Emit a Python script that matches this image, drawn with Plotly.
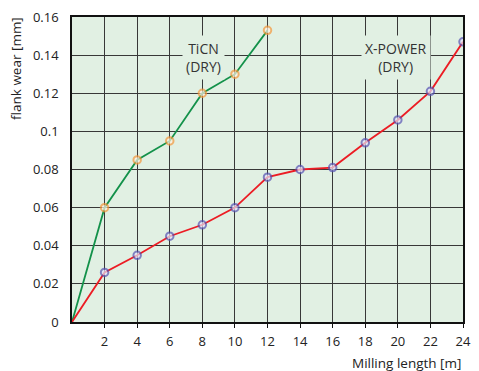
import plotly.graph_objects as go

length_ticn = [0, 2, 4, 6, 8, 10, 12]
wear_ticn = [0, 0.060, 0.085, 0.095, 0.120, 0.130, 0.153]
length_xpower = [0, 2, 4, 6, 8, 10, 12, 14, 16, 18, 20, 22, 24]
wear_xpower = [0, 0.026, 0.035, 0.045, 0.051, 0.060, 0.076, 0.080, 0.081, 0.094, 0.106, 0.121, 0.147]
x_ticks = [2, 4, 6, 8, 10, 12, 14, 16, 18, 20, 22, 24]
y_ticks = [0, 0.02, 0.04, 0.06, 0.08, 0.1, 0.12, 0.14, 0.16]
y_tick_labels = ["0", "0.02", "0.04", "0.06", "0.08", "0.1", "0.12", "0.14", "0.16"]

FONT = "Open Sans"
BG = "#e1f0e3"

fig = go.Figure()
fig.add_trace(go.Scatter(
    x=length_ticn, y=wear_ticn, mode="lines+markers",
    line=dict(color="#13914a", width=1.8),
    marker=dict(size=[0, 7.5, 7.5, 7.5, 7.5, 7.5, 7.5], color="#fff1e2",
                line=dict(color="#f5973a", width=2)),
    showlegend=False,
))
fig.add_trace(go.Scatter(
    x=length_xpower, y=wear_xpower, mode="lines+markers",
    line=dict(color="#ec1c24", width=1.8),
    marker=dict(size=[0] + [7.5] * 12, color="#e4e4fa",
                line=dict(color="#5652b4", width=2)),
    showlegend=False,
))

annotations = [
    dict(x=8.1, y=0.1385, xref="x", yref="y",
         text="TiCN<br>(DRY)", showarrow=False,
         font=dict(family=FONT, size=14, color="#333"),
         bgcolor=BG, borderpad=3),
    dict(x=19.9, y=0.1385, xref="x", yref="y",
         text="X-POWER<br>(DRY)", showarrow=False,
         font=dict(family=FONT, size=14, color="#333"),
         bgcolor=BG, borderpad=3),
    dict(x=-0.143, y=0.83, xref="paper", yref="paper",
         xanchor="center", yanchor="middle",
         text="flank wear [mm]", textangle=-90, showarrow=False,
         font=dict(family=FONT, size=13.5, color="#222")),
    dict(x=1.0, y=-0.135, xref="paper", yref="paper",
         xanchor="right", yanchor="middle",
         text="Milling length [m]", showarrow=False,
         font=dict(family=FONT, size=13.5, color="#222")),
]

fig.update_layout(
    width=479, height=371,
    margin=dict(l=72, r=8, t=12, b=49),
    paper_bgcolor="white", plot_bgcolor=BG,
    font=dict(family=FONT, size=13, color="#222"),
    annotations=annotations,
)
fig.update_xaxes(
    range=[0, 24], tickvals=x_ticks, ticktext=[str(v) for v in x_ticks],
    showgrid=True, gridcolor="#383838", gridwidth=1.4,
    showline=True, linecolor="#111", linewidth=1.5, mirror=True,
    ticks="outside", ticklen=4, tickcolor="#111", ticklabelstandoff=3,
    zeroline=False, tickfont=dict(family=FONT, size=13, color="#222"),
)
fig.update_yaxes(
    range=[0, 0.16], tickvals=y_ticks, ticktext=y_tick_labels,
    showgrid=True, gridcolor="#383838", gridwidth=1.4,
    showline=True, linecolor="#111", linewidth=1.5, mirror=True,
    ticks="", ticklabelstandoff=9,
    zeroline=False, tickfont=dict(family=FONT, size=13, color="#222"),
)

fig.write_html("out.html", config={"displayModeBar": False},
               post_script="document.body.style.margin='0';")
